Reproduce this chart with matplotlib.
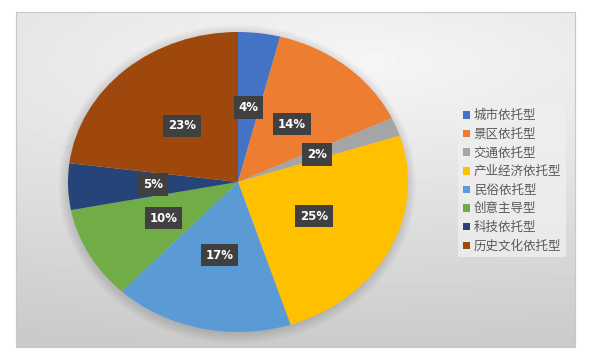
import matplotlib
matplotlib.use('Agg')
import matplotlib.pyplot as plt
import numpy as np
from matplotlib.patches import Ellipse

plt.rcParams['font.family'] = ['Noto Sans CJK SC', 'DejaVu Sans']

# data
categories = ['城市依托型', '景区依托型', '交通依托型', '产业经济依托型',
              '民俗依托型', '创意主导型', '科技依托型', '历史文化依托型']
shares = [4, 14, 2, 25, 17, 10, 5, 23]
colors = ['#4472C4', '#ED7D31', '#A5A5A5', '#FFC000',
          '#5B9BD5', '#70AD47', '#264478', '#9E480E']

W, H = 589, 357
fig = plt.figure(figsize=(W / 100, H / 100), dpi=100)
fig.patch.set_facecolor('white')

# gray radial-gradient chart area
bg = fig.add_axes([16 / W, 1 - 347 / H, 559 / W, 335 / H])
yy, xx = np.mgrid[0:335, 0:559]
xn = xx / 559.0
yn = yy / 335.0
d = np.sqrt(((xn - 0.6) / 2.0) ** 2 + (yn - 0.15) ** 2)
shade = np.clip(0.965 - 0.2 * d, 0.77, 0.96)
bg.imshow(shade, cmap='gray', vmin=0, vmax=1, aspect='auto',
          interpolation='bilinear')
bg.set_xticks([])
bg.set_yticks([])
for s in bg.spines.values():
    s.set_color('#c8c8c8')
    s.set_linewidth(0.8)

# pie (elliptical, like the stretched original)
ax = fig.add_axes([68 / W, 1 - 332 / H, 340 / W, 300 / H])
ax.set_zorder(2)

# soft shadow behind the pie
for k in range(6):
    ax.add_patch(Ellipse((-0.005, -0.015), 2.0 + 0.02 * k, 2.0 + 0.025 * k,
                         color='black', alpha=0.022, lw=0, zorder=0,
                         clip_on=False))

wedges, texts, autotexts = ax.pie(
    shares, colors=colors, startangle=90, counterclock=False,
    autopct='%d%%', pctdistance=0.5,
    wedgeprops=dict(linewidth=0),
    textprops=dict(color='white', fontsize=8.5, fontweight='bold',
                   family=['DejaVu Sans']))
for t in autotexts:
    t.set_bbox(dict(boxstyle='square,pad=0.4', facecolor='#404040',
                    edgecolor='none'))
ax.set_aspect('auto')
ax.set_xlim(-1, 1)
ax.set_ylim(-1, 1)
ax.axis('off')

# legend
leg = fig.legend(wedges, categories, loc='center left',
                 bbox_to_anchor=(452 / W, 1 - 181 / H),
                 frameon=True, fontsize=9, handlelength=0.55,
                 handleheight=0.55, handletextpad=0.35,
                 labelspacing=0.45, borderpad=0.35, fancybox=False)
leg.get_frame().set_facecolor('#efefef')
leg.get_frame().set_edgecolor('none')
for t in leg.get_texts():
    t.set_color('#595959')

fig.savefig('out.png', dpi=100)
